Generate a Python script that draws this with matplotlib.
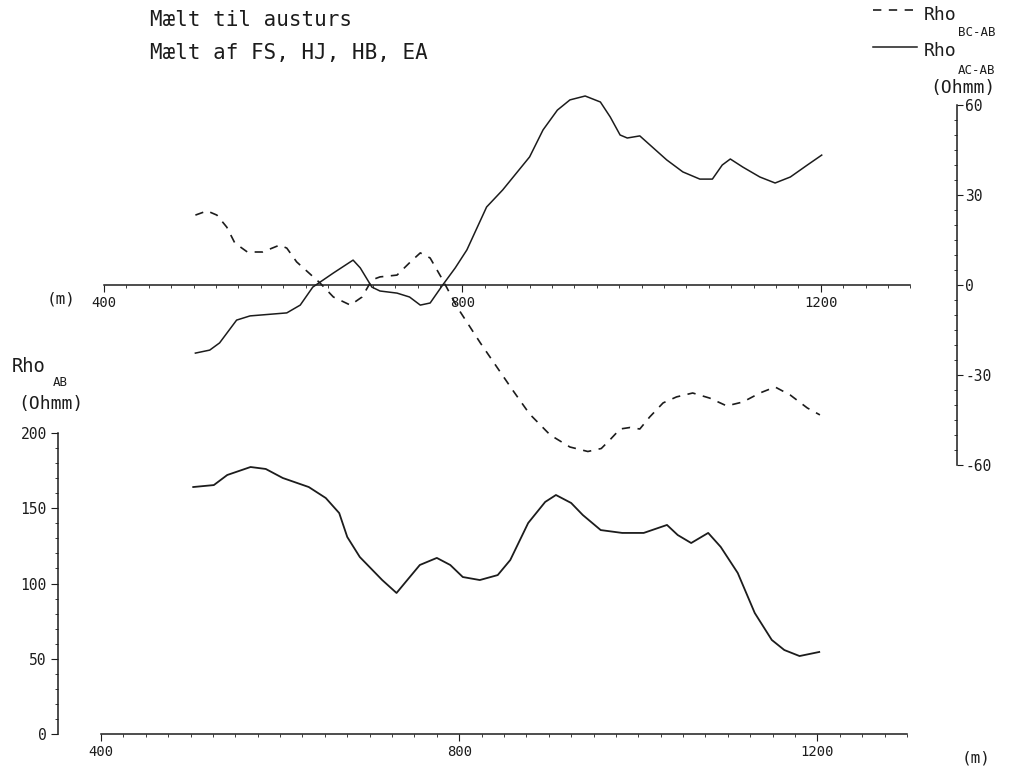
import numpy as np
import matplotlib.pyplot as plt
from matplotlib.lines import Line2D
from matplotlib.ticker import FixedLocator

plt.rcParams['font.family'] = ['DejaVu Sans Mono', 'DejaVu Sans']
plt.rcParams['axes.unicode_minus'] = False

# station positions (m) and apparent resistivity differences (Ohmm)
pos_ac = [502, 518, 529, 548, 563, 604, 619, 633, 656, 678, 686, 699, 708, 727, 741,
          753, 764, 778, 792, 805, 827, 845, 875, 890, 906, 920, 937, 954, 965, 976,
          984, 998, 1013, 1028, 1046, 1065, 1079, 1090, 1099, 1113, 1132, 1149, 1166,
          1185, 1201]
rho_ac = [-22.7, -21.7, -19.3, -11.7, -10.3, -9.3, -6.7, -0.7, 4, 8.3, 5.7, -0.7, -2,
          -2.7, -4, -6.7, -6, 0, 5.7, 11.7, 26, 31.7, 42.7, 51.7, 58.3, 61.7, 63, 61,
          56, 50, 49, 49.7, 45.7, 41.7, 37.7, 35.3, 35.3, 40, 42, 39.3, 36, 34, 36,
          40, 43.3]

pos_bc = [502, 515, 526, 537, 546, 560, 577, 596, 604, 615, 641, 656, 675, 688, 699,
          708, 727, 742, 753, 764, 778, 794, 820, 856, 875, 898, 920, 940, 955, 965,
          976, 987, 998, 1009, 1024, 1039, 1057, 1076, 1095, 1113, 1132, 1149, 1166,
          1185, 1199]
rho_bc = [23.3, 24.7, 23.3, 19.3, 14, 11, 11, 13.3, 12.3, 7.7, 0.7, -4, -6.7, -4, 1.7,
          2.7, 3.3, 7.7, 10.7, 9, 1.7, -7.3, -19.3, -35, -43, -50, -54, -55.5, -54.5,
          -51.5, -48, -47.5, -48, -44, -39.3, -37.3, -36, -37.7, -40.3, -39, -36,
          -34, -36.7, -41, -43.3]

# apparent resistivity AB (Ohmm)
pos_ab = [503, 526, 541, 567, 584, 603, 632, 651, 666, 675, 689, 714, 730, 742, 756,
          775, 790, 804, 823, 843, 857, 877, 896, 908, 925, 938, 958, 982, 1006, 1032,
          1044, 1059, 1078, 1092, 1111, 1130, 1149, 1163, 1180, 1202]
rho_ab = [164.1, 165.4, 172.1, 177.4, 176.1, 170.1, 164.1, 156.8, 146.8, 130.9, 117.6,
          102.3, 93.7, 102.3, 112.3, 117, 112.3, 104.3, 102.3, 105.6, 115.6, 140.2,
          154.2, 158.8, 153.5, 145.5, 135.5, 133.6, 133.6, 138.9, 132.2, 126.9, 133.6,
          124.3, 107, 80.4, 62.5, 55.8, 51.8, 54.5]

x_major = [400, 800, 1200]
x_minor = np.arange(400, 1301, 25)

ink = '#1c1c1c'
W, H = 1016, 771


def fx(px):
    return px / W


def fy(py):
    return 1 - py / H


fig = plt.figure(figsize=(10.16, 7.71), dpi=100)

# upper panel: difference curves, axis at right
ax1 = fig.add_axes([fx(104), fy(471), 853 / W, 384 / H])
ax1.patch.set_alpha(0)
ax1.plot(pos_ac, rho_ac, color=ink, lw=1.1)
ax1.plot(pos_bc, rho_bc, color=ink, lw=1.2, ls=(0, (5, 4.5)))
ax1.set_xlim(400, 1352)
ax1.set_ylim(-62, 66)
ax1.spines['left'].set_visible(False)
ax1.spines['top'].set_visible(False)
ax1.spines['bottom'].set_position(('data', 0))
ax1.spines['bottom'].set_bounds(400, 1300)
ax1.spines['right'].set_bounds(-60, 60)
ax1.yaxis.tick_right()
ax1.set_yticks([-60, -30, 0, 30, 60])
ax1.yaxis.set_minor_locator(FixedLocator(np.arange(-60, 61, 5)))
ax1.set_xticks(x_major)
ax1.xaxis.set_minor_locator(FixedLocator(x_minor))
ax1.tick_params(axis='x', which='major', direction='out', length=5, pad=3, labelsize=10)
ax1.tick_params(axis='x', which='minor', direction='out', length=2.5)
ax1.tick_params(axis='y', which='major', direction='out', length=4, pad=2, labelsize=10.5)
ax1.tick_params(axis='y', which='minor', direction='in', length=2.5)

# lower panel: Rho AB
ax2 = fig.add_axes([fx(58), fy(734), 849 / W, 301 / H])
ax2.patch.set_alpha(0)
ax2.plot(pos_ab, rho_ab, color=ink, lw=1.3)
ax2.set_xlim(352, 1300)
ax2.set_ylim(0, 200)
ax2.spines['right'].set_visible(False)
ax2.spines['top'].set_visible(False)
ax2.spines['bottom'].set_bounds(400, 1300)
ax2.spines['left'].set_bounds(0, 200)
ax2.set_yticks([0, 50, 100, 150, 200])
ax2.yaxis.set_minor_locator(FixedLocator(np.arange(0, 201, 10)))
ax2.set_xticks(x_major)
ax2.xaxis.set_minor_locator(FixedLocator(x_minor))
ax2.tick_params(axis='x', which='major', direction='out', length=5, pad=3, labelsize=10)
ax2.tick_params(axis='x', which='minor', direction='out', length=2.5)
ax2.tick_params(axis='y', which='major', direction='out', length=5, pad=3, labelsize=10.5)
ax2.tick_params(axis='y', which='minor', direction='out', length=2)

for ax in (ax1, ax2):
    for s in ax.spines.values():
        s.set_color(ink)
        s.set_linewidth(1.1)
    ax.tick_params(which='both', colors=ink)

# header text
fig.text(fx(150), fy(20), 'Mælt til austurs', fontsize=15, va='center', color=ink)
fig.text(fx(150), fy(53), 'Mælt af FS, HJ, HB, EA', fontsize=15, va='center', color=ink)

# legend at top right
fig.add_artist(Line2D([fx(873), fx(917)], [fy(10), fy(10)], color=ink, lw=1.2,
                      ls=(0, (5, 4.5)), transform=fig.transFigure))
fig.add_artist(Line2D([fx(873), fx(917)], [fy(47), fy(47)], color=ink, lw=1.1,
                      transform=fig.transFigure))
fig.text(fx(924), fy(15), 'Rho', fontsize=13, va='center', color=ink)
fig.text(fx(958), fy(33), 'BC-AB', fontsize=9, va='center', color=ink)
fig.text(fx(924), fy(51), 'Rho', fontsize=13, va='center', color=ink)
fig.text(fx(958), fy(70), 'AC-AB', fontsize=9, va='center', color=ink)
fig.text(fx(963), fy(88), '(Ohmm)', fontsize=13, va='center', ha='center', color=ink)

# axis captions
fig.text(fx(47), fy(299), '(m)', fontsize=11.5, va='center', color=ink)
fig.text(fx(12), fy(367), 'Rho', fontsize=13.5, va='center', color=ink)
fig.text(fx(53), fy(383), 'AB', fontsize=9, va='center', color=ink)
fig.text(fx(18), fy(404), '(Ohmm)', fontsize=13, va='center', color=ink)
fig.text(fx(962), fy(758), '(m)', fontsize=11.5, va='center', color=ink)

fig.savefig('out.png', dpi=100)
